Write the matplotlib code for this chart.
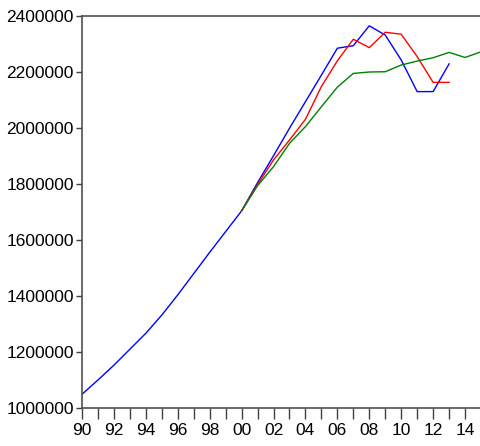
import numpy as np
import matplotlib.pyplot as plt

plt.rcParams['font.family'] = ['Liberation Sans', 'DejaVu Sans']

# series
years_blue = np.arange(1990, 2014)
blue = [1049000, 1100000, 1153000, 1210000, 1267000, 1332000, 1404000, 1480000,
        1556000, 1630000, 1704000, 1805000, 1901000, 1999000, 2094000, 2189000,
        2285000, 2294000, 2365000, 2332000, 2243000, 2130000, 2130000, 2229000]

years_red = np.arange(2000, 2014)
red = [1704000, 1798000, 1886000, 1957000, 2031000, 2148000, 2240000, 2317000,
       2287000, 2342000, 2335000, 2255000, 2163000, 2163000]

years_green = np.arange(2000, 2016)
green = [1704000, 1794000, 1862000, 1945000, 2005000, 2076000, 2146000, 2195000,
         2200000, 2201000, 2225000, 2239000, 2251000, 2270000, 2252000, 2272000]

xtick_labels = ['90', '', '92', '', '94', '', '96', '', '98', '', '00', '', '02', '',
                '04', '', '06', '', '08', '', '10', '', '12', '', '14', '']

fig = plt.figure(figsize=(4.81, 4.46), dpi=100)
ax = fig.add_axes([0.1705, 0.0852, 0.8295, 0.8789])

ax.plot(years_blue, blue, color='#0000ff', lw=1)
ax.plot(years_red, red, color='#ff0000', lw=1)
ax.plot(years_green, green, color='#008000', lw=1)

ax.set_xlim(1990, 2015)
ax.set_ylim(1000000, 2400000)
ax.set_xticks(np.arange(1990, 2016))
ax.set_xticklabels(xtick_labels)
ax.set_yticks(np.arange(1000000, 2400001, 200000))
ax.set_yticklabels([str(v) for v in range(1000000, 2400001, 200000)])

ax.tick_params(axis='x', direction='out', length=8, width=1, color='#404040',
               labelsize=12.5, pad=3)
ax.tick_params(axis='y', direction='out', length=4, width=1, color='#404040',
               labelsize=12.5, pad=2)
for side in ['left', 'bottom', 'top']:
    ax.spines[side].set_color('#505050')
    ax.spines[side].set_linewidth(1.2)
ax.spines['right'].set_visible(False)

fig.savefig('out.png', dpi=100)
